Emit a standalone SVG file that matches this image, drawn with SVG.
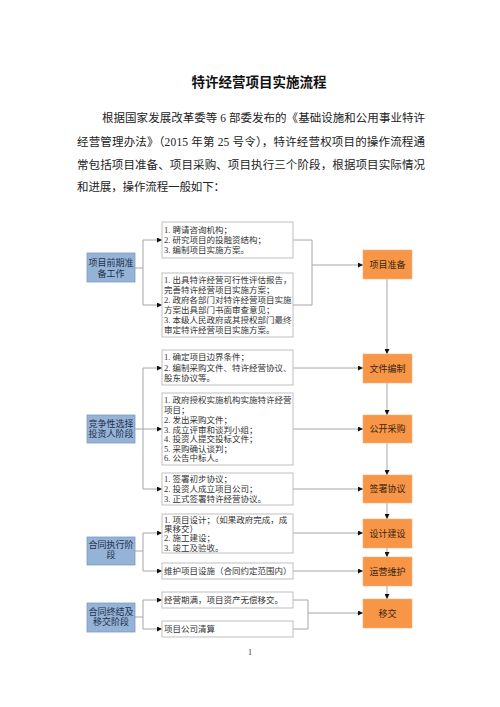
<svg xmlns="http://www.w3.org/2000/svg" width="500" height="707" viewBox="0 0 500 707">
<style>
.bg{fill:#ffffff}
.title{font-family:"Liberation Serif","Noto Sans CJK SC",serif;font-size:13.5px;font-weight:bold;fill:#111}
.para{font-family:"Liberation Serif","Noto Sans CJK SC",serif;font-size:11.5px;fill:#222}
.stage rect{fill:#95B3D7;stroke:#7f9ac0;stroke-width:0.8}
.stage text{font-family:"Liberation Serif","Noto Sans CJK SC",serif;font-size:9px;fill:#1f2f4a;text-anchor:middle}
.step rect{fill:#F79646;stroke:#f4b183;stroke-width:0.6}
.step text{font-family:"Liberation Serif","Noto Sans CJK SC",serif;font-size:9px;fill:#3a2410;text-anchor:middle}
.item rect{fill:#ffffff;stroke:#bfbfbf;stroke-width:1}
.item text{font-family:"Liberation Serif","Noto Sans CJK SC",serif;font-size:8.5px;fill:#333}
.conn line,.conn polyline{stroke:#a6a6a6;stroke-width:1;fill:none}
.arr{marker-end:url(#ah)}
.pg{font-family:"Liberation Serif",serif;font-size:8px;fill:#333;text-anchor:middle}
</style>
<defs>
<marker id="ah" markerUnits="userSpaceOnUse" markerWidth="5" markerHeight="5" refX="5" refY="2.5" orient="auto">
<path d="M0,0 L5,2.5 L0,5 z" fill="#111"/>
</marker>
</defs>
<rect class="bg" x="0" y="0" width="500" height="707"/>

<text class="title" x="259" y="87" text-anchor="middle">特许经营项目实施流程</text>
<g id="intro">
<text class="para" x="102" y="122" textLength="323" lengthAdjust="spacing">根据国家发展改革委等 6 部委发布的《基础设施和公用事业特许</text>
<text class="para" x="77" y="146" textLength="348" lengthAdjust="spacing">经营管理办法》（2015 年第 25 号令），特许经营权项目的操作流程通</text>
<text class="para" x="77" y="169" textLength="348" lengthAdjust="spacing">常包括项目准备、项目采购、项目执行三个阶段，根据项目实际情况</text>
<text class="para" x="77" y="191" textLength="148" lengthAdjust="spacing">和进展，操作流程一般如下：</text>
</g>

<g class="conn" id="connectors">
<!-- stage 1 left -->
<line x1="135" y1="268" x2="143" y2="268"/>
<line x1="143" y1="240" x2="143" y2="305"/>
<line class="arr" x1="143" y1="240" x2="162" y2="240"/>
<line class="arr" x1="143" y1="305" x2="162" y2="305"/>
<!-- stage 1 right -->
<line x1="293" y1="240" x2="312" y2="240"/>
<line x1="293" y1="305" x2="312" y2="305"/>
<line x1="312" y1="240" x2="312" y2="305"/>
<line class="arr" x1="312" y1="265" x2="363" y2="265"/>
<!-- stage 2 left -->
<line x1="135" y1="429" x2="143" y2="429"/>
<line x1="143" y1="368" x2="143" y2="489"/>
<line class="arr" x1="143" y1="368" x2="162" y2="368"/>
<line class="arr" x1="143" y1="429" x2="162" y2="429"/>
<line class="arr" x1="143" y1="489" x2="162" y2="489"/>
<!-- stage 2 right -->
<line class="arr" x1="293" y1="368" x2="363" y2="368"/>
<line class="arr" x1="293" y1="429" x2="363" y2="429"/>
<line class="arr" x1="293" y1="489" x2="363" y2="489"/>
<!-- stage 3 left -->
<line x1="135" y1="551" x2="143" y2="551"/>
<line x1="143" y1="533" x2="143" y2="571"/>
<line class="arr" x1="143" y1="533" x2="162" y2="533"/>
<line class="arr" x1="143" y1="571" x2="162" y2="571"/>
<!-- stage 3 right -->
<line class="arr" x1="293" y1="533" x2="363" y2="533"/>
<line class="arr" x1="293" y1="571" x2="363" y2="571"/>
<!-- stage 4 left -->
<line x1="135" y1="617" x2="143" y2="617"/>
<line x1="143" y1="600" x2="143" y2="629"/>
<line class="arr" x1="143" y1="600" x2="162" y2="600"/>
<line class="arr" x1="143" y1="629" x2="162" y2="629"/>
<!-- stage 4 right -->
<line x1="293" y1="600" x2="308" y2="600"/>
<line x1="293" y1="629" x2="308" y2="629"/>
<line x1="308" y1="600" x2="308" y2="629"/>
<line class="arr" x1="308" y1="613" x2="363" y2="613"/>
<!-- main chain -->
<line class="arr" x1="387" y1="279" x2="387" y2="354"/>
<line class="arr" x1="387" y1="383" x2="387" y2="415"/>
<line class="arr" x1="387" y1="443" x2="387" y2="475"/>
<line class="arr" x1="387" y1="503" x2="387" y2="519"/>
<line class="arr" x1="387" y1="548" x2="387" y2="557"/>
<line class="arr" x1="387" y1="586" x2="387" y2="599"/>
</g>

<g class="stage" id="stage-prep">
<rect x="87" y="253" width="48" height="29"/>
<text x="111" y="266">项目前期准</text>
<text x="111" y="276.5">备工作</text>
</g>
<g class="stage" id="stage-select">
<rect x="87" y="415" width="48" height="28"/>
<text x="111" y="426.5">竞争性选择</text>
<text x="111" y="436.5">投资人阶段</text>
</g>
<g class="stage" id="stage-exec">
<rect x="87" y="537" width="48" height="28"/>
<text x="111" y="548">合同执行阶</text>
<text x="111" y="558">段</text>
</g>
<g class="stage" id="stage-end">
<rect x="87" y="603" width="48" height="29"/>
<text x="111" y="615">合同终结及</text>
<text x="111" y="625">移交阶段</text>
</g>

<g class="item" id="item-1">
<rect x="162" y="222" width="131" height="36"/>
<text x="164" y="233">1. 聘请咨询机构；</text>
<text x="164" y="243">2. 研究项目的投融资结构；</text>
<text x="164" y="252.5">3. 编制项目实施方案。</text>
</g>
<g class="item" id="item-2">
<rect x="162" y="273" width="131" height="64"/>
<text x="164" y="282.5">1. 出具特许经营可行性评估报告，</text>
<text x="164" y="292.5">完善特许经营项目实施方案；</text>
<text x="164" y="303">2. 政府各部门对特许经营项目实施</text>
<text x="164" y="313">方案出具部门书面审查意见；</text>
<text x="164" y="323">3. 本级人民政府或其授权部门最终</text>
<text x="164" y="333">审定特许经营项目实施方案。</text>
</g>
<g class="item" id="item-3">
<rect x="162" y="350" width="131" height="35"/>
<text x="164" y="360">1. 确定项目边界条件；</text>
<text x="164" y="371">2. 编制采购文件、特许经营协议、</text>
<text x="164" y="381">股东协议等。</text>
</g>
<g class="item" id="item-4">
<rect x="162" y="393" width="131" height="72"/>
<text x="164" y="403">1. 政府授权实施机构实施特许经营</text>
<text x="164" y="413">项目；</text>
<text x="164" y="423">2. 发出采购文件；</text>
<text x="164" y="432.5">3. 成立评审和谈判小组；</text>
<text x="164" y="442">4. 投资人提交投标文件；</text>
<text x="164" y="451.5">5. 采购确认谈判；</text>
<text x="164" y="461">6. 公告中标人。</text>
</g>
<g class="item" id="item-5">
<rect x="162" y="473" width="131" height="32"/>
<text x="164" y="482">1. 签署初步协议；</text>
<text x="164" y="492">2. 投资人成立项目公司；</text>
<text x="164" y="501.5">3. 正式签署特许经营协议。</text>
</g>
<g class="item" id="item-6">
<rect x="162" y="514" width="131" height="39"/>
<text x="164" y="523">1. 项目设计；（如果政府完成，成</text>
<text x="164" y="532">果移交）</text>
<text x="164" y="541">2. 施工建设；</text>
<text x="164" y="550.5">3. 竣工及验收。</text>
</g>
<g class="item" id="item-7">
<rect x="162" y="563" width="131" height="16"/>
<text x="164" y="574">维护项目设施（合同约定范围内）</text>
</g>
<g class="item" id="item-8">
<rect x="162" y="592" width="131" height="16"/>
<text x="164" y="603">经营期满，项目资产无偿移交。</text>
</g>
<g class="item" id="item-9">
<rect x="162" y="621" width="131" height="16"/>
<text x="164" y="632">项目公司清算</text>
</g>

<g class="step" id="step-prep">
<rect x="363" y="250" width="49" height="29"/>
<text x="387.5" y="267.5">项目准备</text>
</g>
<g class="step" id="step-docs">
<rect x="363" y="354" width="49" height="29"/>
<text x="387.5" y="371.5">文件编制</text>
</g>
<g class="step" id="step-procure">
<rect x="363" y="415" width="49" height="28"/>
<text x="387.5" y="432">公开采购</text>
</g>
<g class="step" id="step-sign">
<rect x="363" y="475" width="49" height="28"/>
<text x="387.5" y="492">签署协议</text>
</g>
<g class="step" id="step-build">
<rect x="363" y="519" width="49" height="29"/>
<text x="387.5" y="536.5">设计建设</text>
</g>
<g class="step" id="step-operate">
<rect x="363" y="557" width="49" height="29"/>
<text x="387.5" y="574.5">运营维护</text>
</g>
<g class="step" id="step-transfer">
<rect x="363" y="599" width="49" height="29"/>
<text x="387.5" y="616.5">移交</text>
</g>

<text class="pg" x="250" y="655">1</text>
</svg>
